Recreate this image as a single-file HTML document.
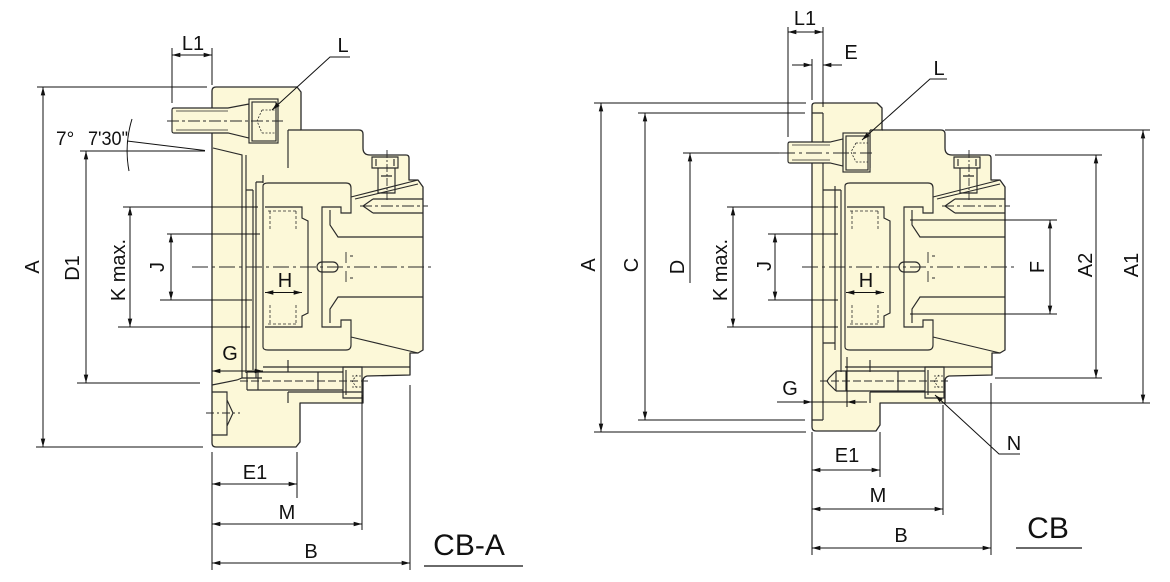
<!DOCTYPE html>
<html><head><meta charset="utf-8"><style>
html,body{margin:0;padding:0;background:#fff;}
svg{display:block;}
text{font-family:"Liberation Sans",Arial,sans-serif;fill:#111;}
</style></head><body>
<svg width="1170" height="582" viewBox="0 0 1170 582" xmlns="http://www.w3.org/2000/svg">
<defs>
<marker id="ar" viewBox="0 0 10 6" refX="10" refY="3" markerWidth="9" markerHeight="5" markerUnits="userSpaceOnUse" orient="auto-start-reverse"><path d="M0,0.3 L10,3 L0,5.7 Z" fill="#111"/></marker>
</defs>

<!-- ============ bodies ============ -->
<g fill="#fcf8d8" stroke="#2a2a2a" stroke-width="1.3" stroke-linejoin="round">
<path d="M212,91 Q212,87 216,87 L297,87 L301,92 L301,130 L359,130 Q363,130 363,134 L363,148 Q363,155 370,155 L406,155 Q409,155 409,158 L409,180 L418,180 L423,187 L423,350 L418,353 L410,353 L410,375 L367,376 Q363,377 363,381 L363,403 L300,403 L300,442 L296,447 L216,447 Q212,447 212,443 Z"/>
<path d="M812,106 Q812,103 815,103 L877,103 L882,108 L882,130 L941,130 Q945,130 945,134 L945,148 Q945,155 952,155 L988,155 Q991,155 991,158 L991,180 L1000,180 L1005,187 L1005,350 L1000,353 L992,353 L992,375 L949,376 Q945,377 945,381 L945,403 L880,403 L880,425 L876,431 L816,431 Q812,431 812,427 Z"/>
</g>

<!-- ============ chuck internals CB-A ============ -->
<g fill="none" stroke="#2a2a2a" stroke-width="1.15">
<path d="M288,130 V168 M288,130 H301"/>
<path d="M263,186 Q263,183 268,183 H346 Q351,183 351,188 V213 H341 V207 H322 V327 H341 V320 H351 V345 Q351,350 346,350 H268 Q263,350 263,347 Z"/>
<path d="M265,207 H302 V218 L308,221 V313 L302,316 V327 H265"/>
<path d="M268,211 H298 M268,324 H298" stroke-dasharray="3 2" stroke-width="0.8"/>
<path d="M270,211 V229 M296,211 V229 M270,305 V323 M296,305 V323" stroke-dasharray="3 2" stroke-width="0.8"/>
<path d="M330,210 V225 L338,237 H423 M330,323 V309 L338,297 H423"/>
<path d="M351,197 L418,180 M355,199 L418,184 M351,337 L418,353"/>
<path d="M373,199 H423 M373,213 H423 M373,199 L363,206 L373,213"/>
<path d="M360,206 H428" stroke-dasharray="12 3 3 3" stroke-width="0.9"/>
<path d="M372,157 H398 V168 H372 Z M376,159 V166 M394,159 V166 M378,168 H395 V193 H378 Z M381,176 H392"/>
<path d="M387,150 V202" stroke-dasharray="8 2 2 2" stroke-width="0.9"/>
<rect x="317" y="262" width="21" height="10" rx="5"/>
<path d="M346,252 V263 M346,271 V282 M350,256 H353 M350,278 H353" stroke-width="0.9"/>
<path d="M263,367 H410"/>
<path d="M288,392 H363 M288,392 V403 M288,360 V372"/>
<path d="M343,367 H362 V398 H343 Z M346,370 V395"/>
<path d="M357,375 L352,381 L357,388 M352,376 H361 M352,387 H361" stroke-dasharray="2 1.5" stroke-width="0.8"/>
</g>

<!-- ============ chuck internals CB (shifted) ============ -->
<g transform="translate(582,0)" fill="none" stroke="#2a2a2a" stroke-width="1.15">
<path d="M288,130 V168 M288,130 H301"/>
<path d="M263,186 Q263,183 268,183 H346 Q351,183 351,188 V213 H341 V207 H322 V327 H341 V320 H351 V345 Q351,350 346,350 H268 Q263,350 263,347 Z"/>
<path d="M265,207 H302 V218 L308,221 V313 L302,316 V327 H265"/>
<path d="M268,211 H298 M268,324 H298" stroke-dasharray="3 2" stroke-width="0.8"/>
<path d="M270,211 V229 M296,211 V229 M270,305 V323 M296,305 V323" stroke-dasharray="3 2" stroke-width="0.8"/>
<path d="M330,210 V225 L338,237 H423 M330,323 V309 L338,297 H423"/>
<path d="M351,197 L418,180 M355,199 L418,184 M351,337 L418,353"/>
<path d="M373,199 H423 M373,213 H423 M373,199 L363,206 L373,213"/>
<path d="M360,206 H428" stroke-dasharray="12 3 3 3" stroke-width="0.9"/>
<path d="M372,157 H398 V168 H372 Z M376,159 V166 M394,159 V166 M378,168 H395 V193 H378 Z M381,176 H392"/>
<path d="M387,150 V202" stroke-dasharray="8 2 2 2" stroke-width="0.9"/>
<rect x="317" y="262" width="21" height="10" rx="5"/>
<path d="M346,252 V263 M346,271 V282 M350,256 H353 M350,278 H353" stroke-width="0.9"/>
<path d="M263,367 H410"/>
<path d="M288,392 H363 M288,392 V403 M288,360 V372"/>
<path d="M343,367 H362 V398 H343 Z M346,370 V395"/>
<path d="M357,375 L352,381 L357,388 M352,376 H361 M352,387 H361" stroke-dasharray="2 1.5" stroke-width="0.8"/>
</g>

<!-- ============ CB-A plate-adjacent ============ -->
<g fill="none" stroke="#2a2a2a" stroke-width="1.15">
<path d="M213,148 L242,155 V378 M246,155 V373 M253,190 V370 M256,182 V378 M246,190 H253 M256,182 H263 M263,175 V183"/>
<path d="M212,385 L237,380 L242,378 H262"/>
<path d="M212,392 H227 V435 H212 M227,400 L233,413 L227,426"/>
</g>
<path d="M206,413 H240" stroke="#2a2a2a" stroke-width="0.9" stroke-dasharray="8 3 2 3"/>
<!-- CB-A top bolt -->
<g fill="#fcf8d8" stroke="#2a2a2a" stroke-width="1.15">
<path d="M174,108 H228 L249,104 V138 L228,133 H174 Q172,133 172,131 V110 Q172,108 174,108 Z"/>
<path d="M176,111 H228 M176,130 H228" fill="none" stroke-width="0.7"/>
<rect x="249" y="99" width="29" height="44"/>
<rect x="252" y="102" width="24" height="39"/>
<path d="M262,110 H275 M262,133 H275 M262,110 L257,121 L262,133" fill="none" stroke-dasharray="2 1.5" stroke-width="0.8"/>
</g>
<path d="M167,121 H283" stroke="#2a2a2a" stroke-width="0.9" stroke-dasharray="12 3 3 3"/>
<!-- CB-A lower bolt shank -->
<g fill="none" stroke="#2a2a2a" stroke-width="1.15">
<path d="M247,372 H343 M247,390 H343 M247,372 V390 M258,372 V390 M318,372 V390"/>
</g>
<path d="M240,381 H368" stroke="#2a2a2a" stroke-width="0.9" stroke-dasharray="8 3"/>

<!-- ============ CB plate-adjacent ============ -->
<g fill="none" stroke="#2a2a2a" stroke-width="1.15">
<path d="M812,113 H823 M823,113 V420 M812,420 H823"/>
<path d="M835,186 V350 M823,190 H841 M841,190 V372 M823,343 H835"/>
</g>
<!-- CB top bolt -->
<g fill="#fcf8d8" stroke="#2a2a2a" stroke-width="1.15">
<path d="M790,142 H830 L843,139 V166 L830,163 H790 Q788,163 788,161 V144 Q788,142 790,142 Z"/>
<path d="M792,145 H830 M792,160 H830" fill="none" stroke-width="0.7"/>
<rect x="843" y="133" width="27" height="39"/>
<rect x="846" y="136" width="22" height="34"/>
<path d="M856,143 H868 M856,162 H868 M856,143 L851,152 L856,162" fill="none" stroke-dasharray="2 1.5" stroke-width="0.8"/>
</g>
<!-- CB lower bolt -->
<g fill="none" stroke="#2a2a2a" stroke-width="1.15">
<path d="M836,371 H925 M836,391 H925 M836,371 L829,378 L827,381 L829,384 L836,391 M836,371 V391 M846,371 V391 M898,371 V391"/>
</g>
<path d="M820,381 H948" stroke="#2a2a2a" stroke-width="0.9" stroke-dasharray="8 3"/>

<!-- centerlines -->
<g stroke="#2a2a2a" stroke-width="1" stroke-dasharray="16 4 3 4" fill="none">
<path d="M192,267 H432"/>
<path d="M802,267 H1016"/>
<path d="M779,153 H872"/>
</g>

<!-- ============ Dimensions CB-A ============ -->
<g stroke="#111" stroke-width="1" fill="none">
<path d="M172,48 V103 M212,48 V85"/>
<path d="M172,55 H212" marker-start="url(#ar)" marker-end="url(#ar)"/>
<path d="M350,57 H330 L272,110" marker-end="url(#ar)"/>
<path d="M37,87 H207 M36,447 H203"/>
<path d="M43,87 V447" marker-start="url(#ar)" marker-end="url(#ar)"/>
<path d="M127,141 L205,150.5 M80,151 H205"/>
<path d="M132,119 Q124,145 129,171"/>
<path d="M77,383 H200"/>
<path d="M86,151 V383" marker-start="url(#ar)" marker-end="url(#ar)"/>
<path d="M123,207 H258 M118,327 H250"/>
<path d="M130,207 V327" marker-start="url(#ar)" marker-end="url(#ar)"/>
<path d="M167,234 H260 M160,300 H252"/>
<path d="M171,234 V300" marker-start="url(#ar)" marker-end="url(#ar)"/>
<path d="M265,292.5 H302" marker-start="url(#ar)" marker-end="url(#ar)"/>
<path d="M212,371 H263" marker-start="url(#ar)" marker-end="url(#ar)"/>
<path d="M212,452 V570 M297,452 V498 M362,395 V530 M410,385 V570"/>
<path d="M212,484 H297" marker-start="url(#ar)" marker-end="url(#ar)"/>
<path d="M212,524 H362" marker-start="url(#ar)" marker-end="url(#ar)"/>
<path d="M212,563 H410" marker-start="url(#ar)" marker-end="url(#ar)"/>
<path d="M424,566 H523" stroke-width="1.2"/>
</g>

<!-- ============ Dimensions CB ============ -->
<g stroke="#111" stroke-width="1" fill="none">
<path d="M788,27 V137 M823,27 V107"/>
<path d="M788,32 H823" marker-start="url(#ar)" marker-end="url(#ar)"/>
<path d="M812,59 V100"/>
<path d="M792,65 H812" marker-end="url(#ar)"/>
<path d="M842,65 H823" marker-end="url(#ar)"/>
<path d="M947,79 H930 L862,140" marker-end="url(#ar)"/>
<path d="M594,103 H806 M594,432 H806"/>
<path d="M601,103 V432" marker-start="url(#ar)" marker-end="url(#ar)"/>
<path d="M638,113 H805 M638,420 H805"/>
<path d="M645,113 V420" marker-start="url(#ar)" marker-end="url(#ar)"/>
<path d="M683,153 H779"/>
<path d="M690,283 V153" marker-end="url(#ar)"/>
<path d="M727,207 H838 M727,327 H838"/>
<path d="M733,207 V327" marker-start="url(#ar)" marker-end="url(#ar)"/>
<path d="M768,234 H838 M768,300 H838"/>
<path d="M775,234 V300" marker-start="url(#ar)" marker-end="url(#ar)"/>
<path d="M846,292.5 H884" marker-start="url(#ar)" marker-end="url(#ar)"/>
<path d="M910,220 H1057 M910,314 H1057"/>
<path d="M1050,220 V314" marker-start="url(#ar)" marker-end="url(#ar)"/>
<path d="M995,155 H1102 M995,378 H1102"/>
<path d="M1096,155 V378" marker-start="url(#ar)" marker-end="url(#ar)"/>
<path d="M945,130 H1150 M943,403 H1150"/>
<path d="M1143,130 V403" marker-start="url(#ar)" marker-end="url(#ar)"/>
<path d="M847,357 V407 M812,402 H847"/>
<path d="M777,402 H812" marker-end="url(#ar)"/>
<path d="M867,402 H847" marker-end="url(#ar)"/>
<path d="M1020,454 H999 L935,395" marker-end="url(#ar)"/>
<path d="M812,432 V555 M880,432 V477 M943,405 V515 M991,383 V555"/>
<path d="M812,470 H880" marker-start="url(#ar)" marker-end="url(#ar)"/>
<path d="M812,509 H943" marker-start="url(#ar)" marker-end="url(#ar)"/>
<path d="M812,548 H991" marker-start="url(#ar)" marker-end="url(#ar)"/>
<path d="M1016,548 H1082" stroke-width="1.2"/>
</g>

<!-- ============ Labels CB-A ============ -->
<g font-size="20" text-anchor="middle">
<text x="193" y="50">L1</text>
<text x="343" y="52">L</text>
<text x="56" y="145" text-anchor="start" font-size="19">7°</text>
<text x="88" y="145" text-anchor="start" font-size="19" textLength="40" lengthAdjust="spacingAndGlyphs">7'30"</text>
<text x="32" y="274" transform="rotate(-90 32 267)">A</text>
<text x="72" y="275" transform="rotate(-90 72 268)">D1</text>
<text x="118" y="277" transform="rotate(-90 118 270)">K max.</text>
<text x="157" y="274" transform="rotate(-90 157 267)">J</text>
<text x="285" y="287">H</text>
<text x="230" y="360">G</text>
<text x="255" y="479">E1</text>
<text x="287" y="519">M</text>
<text x="311" y="558">B</text>
<text x="469" y="555" font-size="30">CB-A</text>
</g>

<!-- ============ Labels CB ============ -->
<g font-size="20" text-anchor="middle">
<text x="805" y="25">L1</text>
<text x="851" y="59">E</text>
<text x="939" y="75">L</text>
<text x="588" y="272" transform="rotate(-90 588 265)">A</text>
<text x="631" y="272" transform="rotate(-90 631 265)">C</text>
<text x="677" y="274" transform="rotate(-90 677 267)">D</text>
<text x="720" y="277" transform="rotate(-90 720 270)">K max.</text>
<text x="764" y="273" transform="rotate(-90 764 266)">J</text>
<text x="866" y="287">H</text>
<text x="1037" y="274" transform="rotate(-90 1037 267)">F</text>
<text x="1085" y="272" transform="rotate(-90 1085 265)">A2</text>
<text x="1131" y="272" transform="rotate(-90 1131 265)">A1</text>
<text x="790" y="395">G</text>
<text x="1014" y="450">N</text>
<text x="847" y="462">E1</text>
<text x="878" y="502">M</text>
<text x="901" y="542">B</text>
<text x="1048" y="538" font-size="30">CB</text>
</g>
</svg>
</body></html>
